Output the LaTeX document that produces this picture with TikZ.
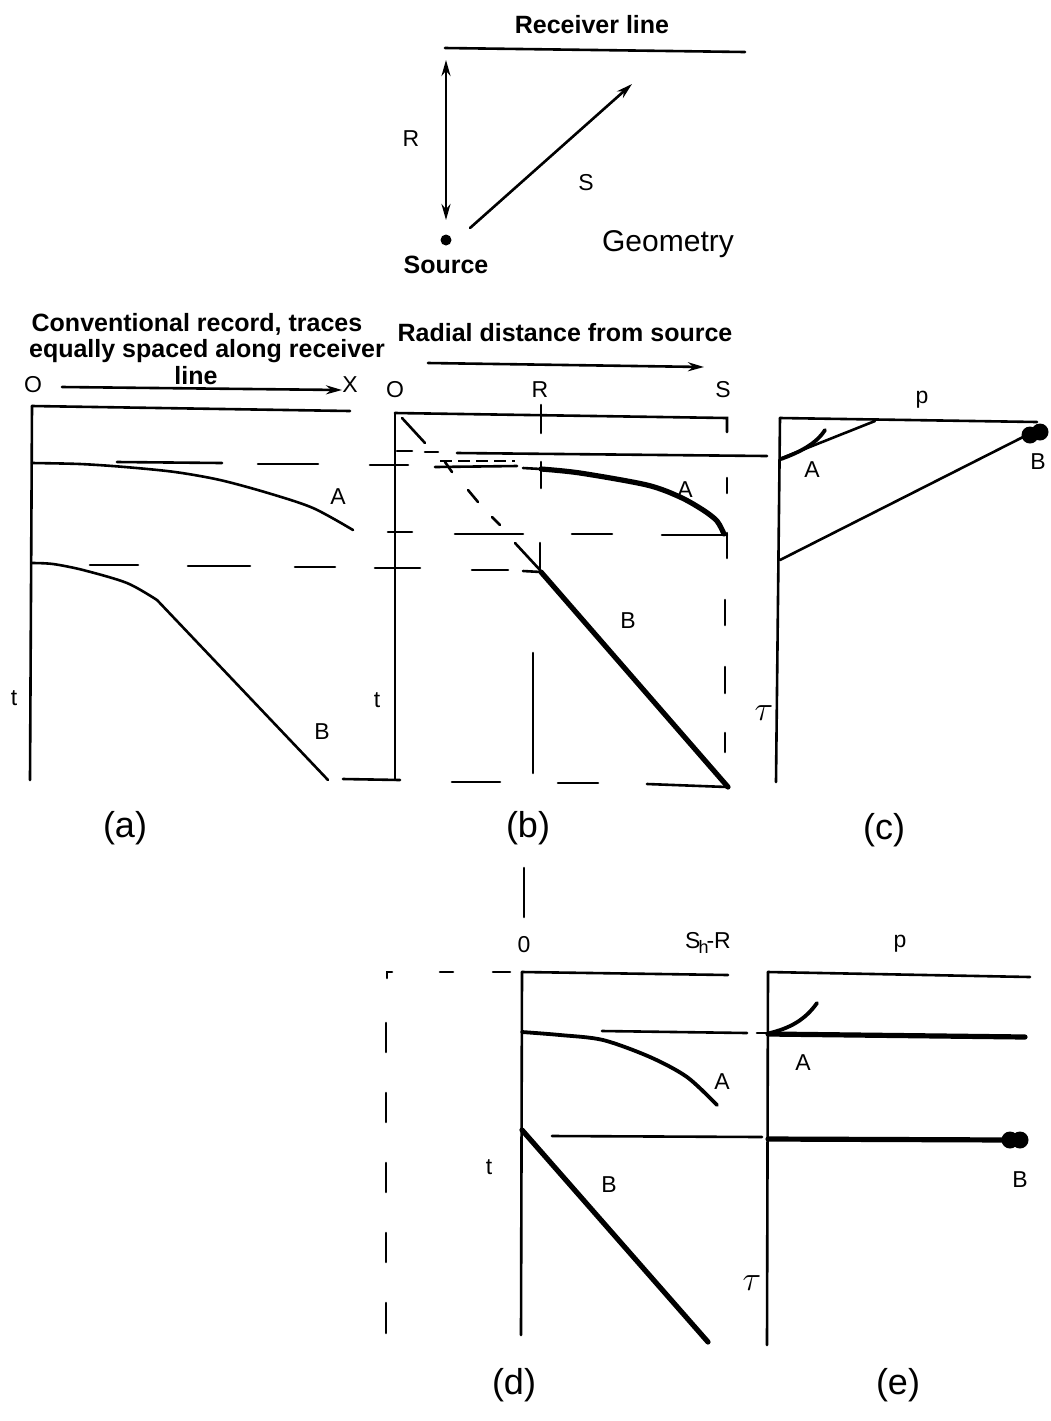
\documentclass[tikz,border=0pt]{standalone}
\usepackage{fontspec}
\setmainfont{Liberation Sans}
\usetikzlibrary{arrows.meta}
\begin{document}
\begin{tikzpicture}[x=0.5pt,y=-0.5pt,
  ln/.style={line width=1.3pt,line cap=round},
  mid/.style={line width=1.9pt,line cap=round},
  thk/.style={line width=2.6pt,line cap=round},
  arr/.style={ln,-{Stealth[length=8pt,width=4.5pt]}},
  darr/.style={ln,{Stealth[length=8pt,width=4.5pt]}-{Stealth[length=8pt,width=4.5pt]}},
  lbl/.style={font=\fontsize{11.5}{13}\selectfont,inner sep=0pt},
  ttl/.style={font=\bfseries\fontsize{12.5}{14}\selectfont,inner sep=0pt},
  capt/.style={font=\fontsize{18}{20}\selectfont,inner sep=0pt},
  taul/.style={font=\fontsize{16}{18}\selectfont,inner sep=0pt},
  blob/.style={circle,fill,inner sep=0pt,minimum size=8.5pt}]
\useasboundingbox (0,0) rectangle (1051,1421);

% ---------------- Geometry ----------------
\node[ttl] (rl) at (592,25) {Receiver line};
\draw[ln] (445,48) -- (745,52);
\node[circle,fill,inner sep=0pt,minimum size=5.5pt] (src) at (446,240) {};
\coordinate (rtop) at (446,60);
\coordinate (rbot) at (446,220);
\draw[darr] (rtop) -- (rbot);
\coordinate (s0) at (470,228);
\coordinate (s1) at (632,84);
\draw[arr] (s0) -- (s1);
\node[lbl] (Rg) at (411,139) {R};
\node[lbl] (Sg) at (586,183) {S};
\node[ttl] (srcl) at (446,265) {Source};
\node[font=\fontsize{15}{17}\selectfont,inner sep=0pt] (geo) at (668,244) {Geometry};

% ---------------- Panel (a) ----------------
\node[ttl] (ta1) at (197,324) {Conventional record, traces};
\node[ttl] (ta2) at (207,351) {equally spaced along receiver};
\node[ttl] (ta3) at (196,376) {line};
\node[lbl] (Oa) at (33,385) {O};
\node[lbl] (Xa) at (350,385) {X};
\coordinate (aa0) at (62,387);
\coordinate (aa1) at (342,390);
\draw[arr] (aa0) -- (aa1);
\draw[ln] (32,406) -- (350,411);
\draw[ln] (32,406) -- (30,780);
\draw[ln] plot[smooth] coordinates {(32,463)(80,464)(125,467)(175,472)(220,480)(268,493)(313,508)(353,530)};
\draw[ln] plot[smooth] coordinates {(32,563)(53,564)(83,570)(127,583)(157,600)};
\draw[ln] (157,600) -- (328,780);
\node[lbl] (Aa) at (338,497) {A};
\node[lbl] (Ba) at (322,732) {B};
\node[lbl] (ta) at (14,698) {t};
\node[capt] (la) at (125,828) {(a)};

% dashed guide lines running across (a)-(b)
% A onset
\draw[ln] (117,462) -- (222,463);
\draw[ln] (258,464) -- (318,464);
\draw[ln] (370,465) -- (408,465);
\draw[ln] (435,467) -- (517,466);
\draw[line width=0.9pt,dash pattern=on 6pt off 3pt] (440,461) -- (515,461);
\draw[ln] (523,468) -- (541,469);
% B onset
\draw[ln] (90,565) -- (138,565);
\draw[ln] (188,566) -- (250,566);
\draw[ln] (295,567) -- (335,567);
\draw[ln] (375,568) -- (420,568);
\draw[ln] (472,570) -- (508,570);
\draw[ln] (523,571) -- (541,572);
% bottom
\draw[ln] (343,779) -- (400,780);
\draw[ln] (452,782) -- (500,782);
\draw[ln] (558,783) -- (598,783);
\draw[ln] (647,784) -- (727,787);

% ---------------- Panel (b) ----------------
\node[ttl] (tb) at (565,333) {Radial distance from source};
\coordinate (ab0) at (428,363);
\coordinate (ab1) at (704,367);
\draw[arr] (ab0) -- (ab1);
\node[lbl] (Ob) at (395,390) {O};
\node[lbl] (Rb) at (540,390) {R};
\node[lbl] (Sb) at (723,390) {S};
\draw[ln] (395,413) -- (727,418) -- (727,432);
\draw[ln] (395,413) -- (395,780);
% R vertical
\draw[ln] (541,405) -- (541,433);
\draw[ln] (541,462) -- (541,488);
\draw[ln] (540,543) -- (540,572);
\draw[ln] (533,653) -- (533,773);
% S vertical
\draw[ln] (727,478) -- (727,493);
\draw[ln] (727,533) -- (727,558);
\draw[ln] (725,600) -- (725,625);
\draw[ln] (725,667) -- (725,693);
\draw[ln] (725,733) -- (725,752);
% diagonal from origin
\draw[ln] (402,418) -- (425,443);
\draw[ln] (445,462) -- (452,472);
\draw[ln] (468,490) -- (478,502);
\draw[ln] (492,517) -- (500,525);
\draw[ln] (515,543) -- (540,570);
% line to (c) A intercept
\draw[ln] (397,451) -- (412,451);
\draw[ln] (425,452) -- (438,452);
\draw[ln] (457,453) -- (767,456);
% A end line
\draw[ln] (388,532) -- (412,532);
\draw[ln] (455,534) -- (523,534);
\draw[ln] (572,534) -- (612,534);
\draw[ln] (662,535) -- (727,535);
% curves
\draw[thk] plot[smooth] coordinates {(541,469)(580,473)(647,485)(680,497)(703,510)(717,521)(724,534)};
\draw[thk] (541,572) -- (728,787);
\node[lbl] (Ab) at (685,490) {A};
\node[lbl] (Bb) at (628,621) {B};
\node[lbl] (tbl) at (377,700) {t};
\node[capt] (lb) at (528,828) {(b)};

% ---------------- Panel (c) ----------------
\node[lbl] (pc) at (922,400) {p};
\draw[ln] (780,418) -- (1037,422);
\draw[ln] (780,418) -- (776,782);
\draw[ln] (782,458) -- (875,421);
\draw[mid] (781,459) .. controls (800,452) and (816,444) .. (825,430);
\draw[ln] (780,560) -- (1027,435);
\node[blob] (Bc1) at (1030,435) {};
\node[blob] (Bc2) at (1040,432) {};
\node[lbl] (Ac) at (812,470) {A};
\node[lbl] (Bc) at (1038,462) {B};
\node[taul] (tauc) at (764,713) {$\tau$};
\node[capt] (lc) at (884,830) {(c)};

% ---------------- Panel (d) ----------------
\draw[ln] (524,868) -- (524,917);
\node[lbl] (Od) at (524,945) {0};
\node[lbl] (SRd) at (708,943) {S\kern-1pt\raisebox{-0.45ex}{\fontsize{9}{10}\selectfont h}\kern-1pt-R};
\draw[ln] (522,972) -- (728,975);
\draw[ln] (522,972) -- (521,1335);
% dashed box to the left
\draw[ln] (392,972) -- (387,972) -- (387,978);
\draw[ln] (440,972) -- (453,972);
\draw[ln] (493,972) -- (510,972);
\foreach \ya/\yb in {1023/1052,1093/1122,1163/1192,1233/1262,1303/1333}
  \draw[ln] (386,\ya) -- (386,\yb);
\draw[mid] plot[smooth] coordinates {(522,1032)(560,1035)(603,1040)(650,1057)(687,1077)(717,1105)};
\draw[ln] (602,1031) -- (747,1033);
\draw[ln] (757,1033) -- (768,1033);
\draw[thk] (522,1130) -- (708,1342);
\draw[ln] (552,1136) -- (762,1137);
\node[lbl] (Ad) at (722,1082) {A};
\node[lbl] (td) at (489,1167) {t};
\node[lbl] (Bd) at (609,1185) {B};
\node[capt] (ld) at (514,1385) {(d)};

% ---------------- Panel (e) ----------------
\node[lbl] (pe) at (900,944) {p};
\draw[ln] (768,972) -- (1030,977);
\draw[ln] (768,972) -- (767,1345);
\draw[thk] (768,1034) -- (1025,1037);
\draw[mid] (770,1033) .. controls (790,1028) and (805,1020) .. (817,1003);
\draw[thk] (768,1139) -- (1010,1140);
\node[blob] (Be1) at (1010,1140) {};
\node[blob] (Be2) at (1020,1140) {};
\node[lbl] (Ae) at (803,1063) {A};
\node[lbl] (Be) at (1020,1180) {B};
\node[taul] (taue) at (752,1283) {$\tau$};
\node[capt] (le) at (898,1385) {(e)};
\end{tikzpicture}
\end{document}
